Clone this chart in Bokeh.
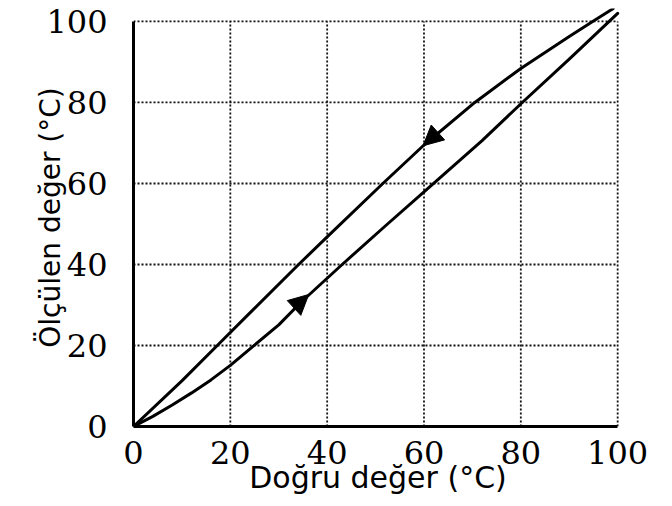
from bokeh.plotting import figure
from bokeh.models import Range1d, FixedTicker, Arrow, NormalHead, ColumnDataSource
from bokeh.embed import file_html
from bokeh.resources import INLINE

# ---- data ----
ticks = [0, 20, 40, 60, 80, 100]
tick_labels = ["0", "20", "40", "60", "80", "100"]

# rising temperature path (lower curve)
rise_x = [0, 4, 8, 12, 16, 20, 24, 30, 34.7, 43.1, 52, 61, 72, 80.3, 90, 100]
rise_y = [0, 2.5, 5.3, 8.3, 11.5, 15.1, 19.1, 25.1, 30.8, 40.0, 49.5, 59.0, 70.6, 80.0, 90.7, 102.0]

# falling temperature path (upper curve)
fall_x = [99.1, 95, 90, 80, 70.5, 60, 51.5, 40, 34.1, 24, 17.3, 10.1, 0]
fall_y = [103.2, 100.1, 96.3, 88.4, 80.0, 69.5, 60.0, 46.8, 40.0, 28.0, 20.0, 11.4, 0]

# arrow heads (tail -> tip)
arrow_tail_x = [32.1, 64.0]
arrow_tail_y = [28.1, 73.8]
arrow_tip_x = [36.2, 59.8]
arrow_tip_y = [32.6, 69.3]

x_label = "Doğru değer (°C)"
y_label = "Ölçülen değer (°C)"

# ---- figure ----
p = figure(width=664, height=498, output_backend="svg", toolbar_location=None,
           x_range=Range1d(0, 101), y_range=Range1d(0, 103.2),
           min_border_left=133, min_border_right=42,
           min_border_top=8, min_border_bottom=72)
p.outline_line_color = None
p.background_fill_color = "white"
p.border_fill_color = "white"
p.xgrid.visible = False
p.ygrid.visible = False

inner = ticks[1:]
p.segment(x0=inner, y0=[ticks[0]] * len(inner), x1=inner, y1=[ticks[-1]] * len(inner),
          line_color="#111111", line_width=1.8, line_dash="2 2")
p.segment(x0=[ticks[0]] * len(inner), y0=inner, x1=[ticks[-1]] * len(inner), y1=inner,
          line_color="#111111", line_width=1.8, line_dash="2 2")

p.line(rise_x, rise_y, line_color="black", line_width=3, line_join="round", line_cap="round")
p.line(fall_x, fall_y, line_color="black", line_width=3, line_join="round", line_cap="round")

src = ColumnDataSource(dict(x0=arrow_tail_x, y0=arrow_tail_y, x1=arrow_tip_x, y1=arrow_tip_y))
p.add_layout(Arrow(source=src, x_start="x0", y_start="y0", x_end="x1", y_end="y1",
                   line_alpha=0,
                   end=NormalHead(size=20, fill_color="black", line_color="black", line_width=1)))

for ax in (p.xaxis[0], p.yaxis[0]):
    ax.ticker = FixedTicker(ticks=ticks)
    ax.major_label_overrides = {t: lab for t, lab in zip(ticks, tick_labels)}
    ax.bounds = (ticks[0], ticks[-1])
    ax.axis_line_color = "black"
    ax.axis_line_width = 3
    ax.major_tick_line_color = None
    ax.minor_tick_line_color = None
    ax.major_label_text_font = "DejaVu Serif"
    ax.major_label_text_font_size = "32px"
    ax.major_label_text_color = "black"
    ax.axis_label_text_font = "DejaVu Sans"
    ax.axis_label_text_font_style = "normal"
    ax.axis_label_text_color = "black"

p.xaxis.axis_label = x_label
p.xaxis.axis_label_text_font_size = "30px"
p.xaxis.major_label_standoff = 8
p.xaxis.axis_label_standoff = -7

p.yaxis.axis_label = y_label
p.yaxis.axis_label_text_font_size = "28px"
p.yaxis.major_label_standoff = 20
p.yaxis.axis_label_standoff = -24

open("out.html", "w").write(file_html(p, INLINE))
